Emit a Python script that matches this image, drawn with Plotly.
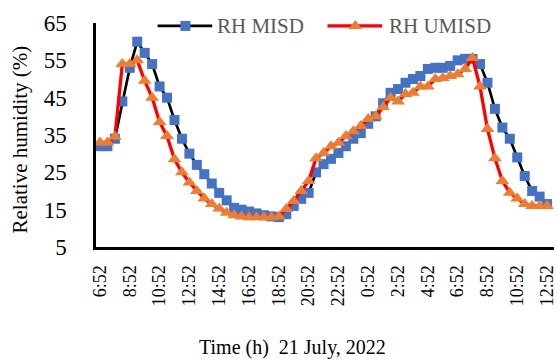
import plotly.graph_objects as go

# Half-hourly readings from 6:52 (21 July) to 12:52 the next day
tick_labels = ["6:52", "8:52", "10:52", "12:52", "14:52", "16:52", "18:52", "20:52",
               "22:52", "0:52", "2:52", "4:52", "6:52", "8:52", "10:52", "12:52"]

rh_misd = [32, 32, 34, 44, 53, 60, 57, 54, 48, 45,
           39, 34, 30, 27, 24.5, 22, 19.5, 17.5, 15.5, 15,
           14.5, 14, 13.5, 13.2, 13, 13.8, 16, 17.9, 19.5, 25,
           27.2, 28.6, 30.2, 32, 34, 35.5, 38, 40, 43.5, 46.3,
           47.3, 49, 50, 50.8, 52.7, 53, 53, 53.5, 55, 55.4,
           55.4, 54, 49, 42, 37, 34, 29, 24, 20, 18.5,
           16.5]

rh_umisd = [33, 33, 34.5, 54, 54, 55, 49.5, 45, 38.5, 34.7,
            28.5, 25, 22.3, 20, 18, 16.5, 15.3, 14.2, 13.5, 13.2,
            13, 13, 13, 13, 13.2, 15.2, 17.3, 20, 22.7, 28.8,
            30.2, 32, 32.9, 34.7, 36, 37.4, 39.3, 40, 42.5, 45,
            44, 46, 46.3, 48, 48, 50, 50.3, 50.8, 51.3, 52.7,
            55.6, 48, 36.6, 28.8, 22.7, 19.5, 18, 16.5, 16, 16,
            16]

idx = list(range(len(rh_misd)))
tick_idx = list(range(0, len(rh_misd), 4))

SERIF = "Liberation Serif"
BLUE = "#4472C4"
ORANGE = "#ED7D31"

fig = go.Figure()
fig.add_trace(go.Scatter(
    x=idx, y=rh_misd, mode="lines+markers", name="RH MISD", showlegend=False,
    line=dict(color="black", width=2.7),
    marker=dict(symbol="square", size=10, color=BLUE, line=dict(width=0)),
    cliponaxis=False,
))
fig.add_trace(go.Scatter(
    x=idx, y=rh_umisd, mode="lines+markers", name="RH UMISD", showlegend=False,
    line=dict(color="#FF0000", width=3.3),
    marker=dict(symbol="triangle-up", size=12, color=ORANGE, line=dict(width=0)),
    cliponaxis=False,
))

# Legend drawn as line + marker + label at the top of the plot area
ly = 0.987
shapes = [
    dict(type="line", xref="paper", yref="paper", x0=0.1345, x1=0.2538, y0=ly, y1=ly,
         line=dict(color="black", width=2.7)),
    dict(type="rect", xref="paper", yref="paper", xsizemode="pixel", ysizemode="pixel",
         xanchor=0.1952, yanchor=ly, x0=-5, x1=5, y0=-5, y1=5,
         fillcolor=BLUE, line=dict(width=0)),
    dict(type="line", xref="paper", yref="paper", x0=0.5054, x1=0.6247, y0=ly, y1=ly,
         line=dict(color="#FF0000", width=3.3)),
    dict(type="path", xref="paper", yref="paper", xsizemode="pixel", ysizemode="pixel",
         xanchor=0.5662, yanchor=ly, path="M-6.9,-3 L6.9,-3 L0,6 Z",
         fillcolor=ORANGE, line=dict(width=0)),
]
annotations = [
    dict(text="RH MISD", xref="paper", yref="paper", x=0.2603, y=ly,
         xanchor="left", yanchor="middle", showarrow=False,
         font=dict(family=SERIF, size=21, color="#595959")),
    dict(text="RH UMISD", xref="paper", yref="paper", x=0.6356, y=ly,
         xanchor="left", yanchor="middle", showarrow=False,
         font=dict(family=SERIF, size=21, color="#595959")),
    dict(text="Relative humidity (%)", xref="paper", yref="paper",
         x=(20 - 96) / 461, y=(247 - 139) / 224, textangle=-90,
         xanchor="center", yanchor="middle", showarrow=False,
         font=dict(family=SERIF, size=21, color="black")),
    dict(text="Time (h)\u00a0 21 July, 2022", xref="paper", yref="paper",
         x=(294 - 96) / 461, y=(247 - 347) / 224,
         xanchor="center", yanchor="middle", showarrow=False,
         font=dict(family=SERIF, size=20, color="black")),
]

fig.update_layout(
    width=557, height=360,
    margin=dict(l=96, r=0, t=23, b=113),
    paper_bgcolor="white", plot_bgcolor="white",
    font=dict(family=SERIF),
    shapes=shapes, annotations=annotations,
    showlegend=False,
    xaxis=dict(
        range=[-0.533, 60.93], tickmode="array", tickvals=tick_idx, ticktext=tick_labels,
        tickangle=-90, showgrid=False, zeroline=False,
        showline=True, linecolor="black", linewidth=3, ticks="",
        ticklabelstandoff=8, ticklabeloverflow="allow",
        tickfont=dict(family=SERIF, size=18, color="black"),
    ),
    yaxis=dict(
        range=[5, 65], tickmode="array", tickvals=[5, 15, 25, 35, 45, 55, 65],
        showgrid=False, zeroline=False,
        showline=True, linecolor="black", linewidth=2.5, ticks="",
        ticklabelstandoff=22,
        tickfont=dict(family=SERIF, size=23, color="black"),
    ),
)

fig.write_html("out.html")
